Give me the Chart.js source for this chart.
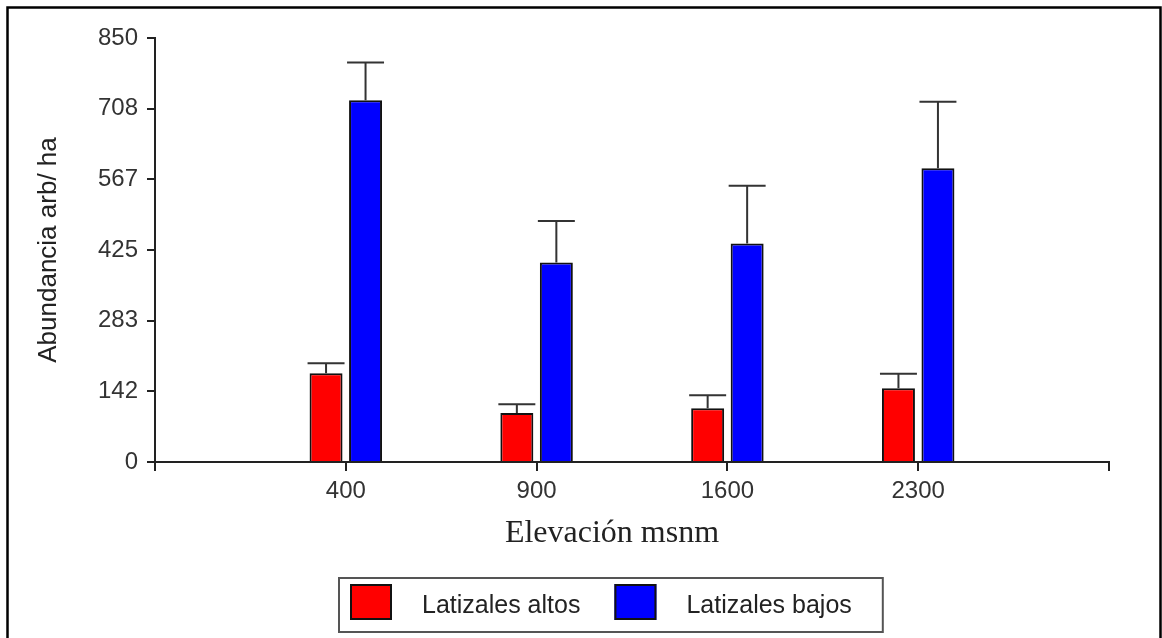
<!DOCTYPE html>
<html><head><meta charset="utf-8">
<script src="https://cdn.jsdelivr.net/npm/chart.js@4.4.1/dist/chart.umd.min.js"></script>
<style>html,body{margin:0;padding:0;background:#fff;}#wrap{width:1162px;height:638px;}</style>
</head><body><div id="wrap"><canvas id="c" width="1162" height="638"></canvas></div>
<script>
// ---- DATA ----
const categories = ['400', '900', '1600', '2300'];
const altosValues = [178, 98, 108, 148];
const altosErrors = [20, 18, 26, 29];
const bajosValues = [725, 400, 438, 589];
const bajosErrors = [76, 83, 116, 133];
const yTickLabels = ['0', '142', '283', '425', '567', '708', '850'];
const yMax = 850;
const seriesNames = ['Latizales altos', 'Latizales bajos'];
const seriesColors = ['#FF0000', '#0000FF'];
const xTitle = 'Elevación msnm';
const yTitle = 'Abundancia arb/ ha';

// ---- build library structures ----
const labels = ['', ...categories, ''];
const pad = arr => [null, ...arr, null];
const SANS = '"Liberation Sans", Arial, sans-serif';
const SERIF = '"Liberation Serif", "Times New Roman", serif';

const framePlugin = {
  id: 'frame',
  beforeDraw(chart) {
    const ctx = chart.ctx;
    ctx.save();
    ctx.fillStyle = '#fff';
    ctx.fillRect(0, 0, chart.width, chart.height);
    ctx.strokeStyle = '#000';
    ctx.lineWidth = 2.5;
    ctx.strokeRect(7.5, 7.5, 1153, 700);
    ctx.restore();
  }
};

const errorBarPlugin = {
  id: 'errorBars',
  afterDatasetsDraw(chart) {
    const ctx = chart.ctx;
    const yScale = chart.scales.y;
    ctx.save();
    ctx.strokeStyle = '#333';
    ctx.lineWidth = 2;
    chart.data.datasets.forEach((ds, i) => {
      const meta = chart.getDatasetMeta(i);
      meta.data.forEach((el, j) => {
        const v = ds.data[j];
        const e = ds.errors[j];
        if (v == null || e == null) return;
        const yTop = el.y;
        const yErr = yScale.getPixelForValue(v + e);
        const half = el.width / 2 + 2;
        ctx.beginPath();
        ctx.moveTo(el.x, yTop);
        ctx.lineTo(el.x, yErr);
        ctx.moveTo(el.x - half, yErr);
        ctx.lineTo(el.x + half, yErr);
        ctx.stroke();
      });
    });
    ctx.restore();
  }
};

const annotPlugin = {
  id: 'annot',
  afterDraw(chart) {
    const ctx = chart.ctx;
    ctx.save();
    // x axis title
    ctx.fillStyle = '#222';
    ctx.font = '32px ' + SERIF;
    ctx.textAlign = 'center';
    ctx.textBaseline = 'middle';
    ctx.fillText(xTitle, 612, 534);
    // legend
    const lx = 339, ly = 578, lh = 54;
    ctx.font = '25px ' + SANS;
    ctx.textAlign = 'left';
    let x = lx + 11;
    chart.data.datasets.forEach((ds, k) => {
      ctx.fillStyle = ds.backgroundColor;
      ctx.fillRect(x, ly + 6, 42, 36);
      ctx.strokeStyle = '#111';
      ctx.lineWidth = 2;
      ctx.strokeRect(x + 1, ly + 7, 40, 34);
      x += 42 + 30;
      ctx.fillStyle = '#222';
      ctx.fillText(ds.label, x, ly + lh / 2 + 1);
      x += ctx.measureText(ds.label).width + 34;
    });
    const right = x - 34 + 31;
    ctx.strokeStyle = '#555';
    ctx.lineWidth = 2;
    ctx.strokeRect(lx, ly, right - lx, lh);
    ctx.restore();
  }
};

new Chart(document.getElementById('c'), {
  type: 'bar',
  data: {
    labels: labels,
    datasets: [
      { label: seriesNames[0], data: pad(altosValues), errors: pad(altosErrors),
        backgroundColor: seriesColors[0], borderColor: '#111', borderWidth: 2 },
      { label: seriesNames[1], data: pad(bajosValues), errors: pad(bajosErrors),
        backgroundColor: seriesColors[1], borderColor: '#111', borderWidth: 2 }
    ]
  },
  options: {
    responsive: false,
    animation: false,
    devicePixelRatio: 1,
    layout: { padding: { top: 38, left: 30, right: 53, bottom: 116 } },
    datasets: { bar: { categoryPercentage: 0.414, barPercentage: 0.835 } },
    plugins: { legend: { display: false }, tooltip: { enabled: false } },
    scales: {
      x: {
        type: 'category',
        offset: false,
        grid: { display: true, offset: false, drawOnChartArea: false, drawTicks: true, tickLength: 9, color: '#222', lineWidth: 2 },
        border: { display: true, color: '#222', width: 2 },
        ticks: { font: { size: 24, family: SANS }, color: '#333', padding: 6, autoSkip: false, maxRotation: 0 },
        afterFit(s) { s.height = 60; }
      },
      y: {
        min: 0, max: yMax,
        grid: { display: true, drawOnChartArea: false, drawTicks: true, tickLength: 8, color: '#222', lineWidth: 2 },
        border: { display: true, color: '#222', width: 2 },
        afterBuildTicks(s) { s.ticks = yTickLabels.map((l, i) => ({ value: yMax * i / (yTickLabels.length - 1) })); },
        ticks: { font: { size: 24, family: SANS }, color: '#333', padding: 9,
                 callback: (v, i) => yTickLabels[i] },
        title: { display: true, text: yTitle, font: { size: 26, family: SANS }, color: '#222', padding: { top: 3, bottom: 0 } },
        afterFit(s) { s.width = 125; }
      }
    }
  },
  plugins: [framePlugin, errorBarPlugin, annotPlugin]
});
</script></body></html>
